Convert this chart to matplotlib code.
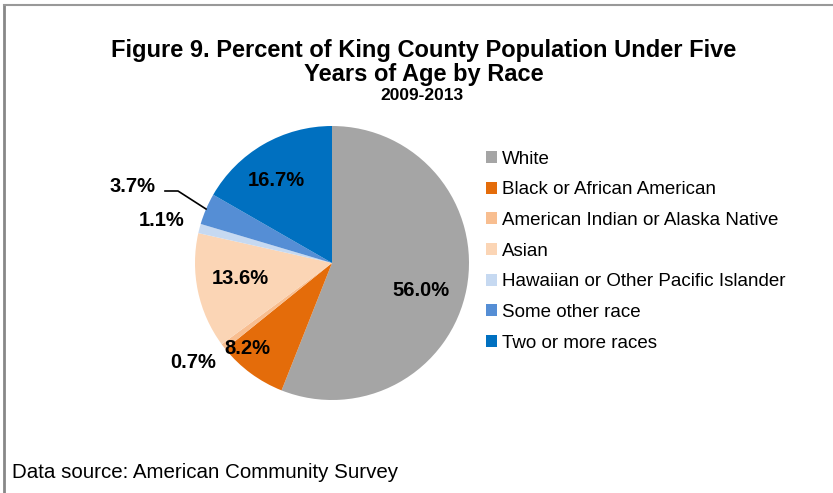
import matplotlib.pyplot as plt
from matplotlib.lines import Line2D
from matplotlib.patches import Patch

plt.rcParams['font.family'] = ['Liberation Sans', 'DejaVu Sans']

# -------------------------
# Data
# -------------------------
races = ['White', 'Black or African American', 'American Indian or Alaska Native',
         'Asian', 'Hawaiian or Other Pacific Islander', 'Some other race',
         'Two or more races']
percent = [56.0, 8.2, 0.7, 13.6, 1.1, 3.7, 16.7]
colors = ['#A5A5A5', '#E46C0A', '#F8BE90', '#FBD5B5', '#C6D9F1', '#558ED5', '#0070C0']

# label anchor points (pixel space, y measured from bottom)
label_xy = [(421, 203), (247, 145), (193, 131), (240, 215), (162, 273), (133, 307), (276, 312)]

# -------------------------
# Figure in pixel coordinates
# -------------------------
W, H = 833, 493
fig = plt.figure(figsize=(W / 100, H / 100), dpi=100)
ax = fig.add_axes([0, 0, 1, 1])

wedges, _ = ax.pie(percent, colors=colors, startangle=90, counterclock=False,
                   center=(332, 230), radius=137, frame=True)
ax.set_xlim(0, W)
ax.set_ylim(0, H)
ax.set_aspect('equal')
ax.axis('off')

for (x, y), p in zip(label_xy, percent):
    ax.text(x, y, f'{p:.1f}%', ha='center', va='center',
            fontsize=14.5, fontweight='bold', color='black')

# leader line for "Some other race"
ax.plot([165, 178, 206], [302, 302, 284], color='black', lw=1.2)

# -------------------------
# Titles and note
# -------------------------
ax.text(424, 443, 'Figure 9. Percent of King County Population Under Five',
        ha='center', va='center', fontsize=17, fontweight='bold')
ax.text(424, 419, 'Years of Age by Race', ha='center', va='center',
        fontsize=17, fontweight='bold')
ax.text(422, 397, '2009-2013', ha='center', va='center',
        fontsize=12.5, fontweight='bold')
ax.text(12, 20, 'Data source: American Community Survey', ha='left',
        va='center', fontsize=14.8)

# -------------------------
# Legend
# -------------------------
handles = [Patch(facecolor=c, edgecolor='none') for c in colors]
ax.legend(handles, races, loc='upper left', bbox_to_anchor=(478 / W, 350 / H),
          frameon=False, fontsize=13.5, handlelength=0.6, handleheight=0.6,
          handletextpad=0.3, labelspacing=0.73, borderaxespad=0)

# -------------------------
# Chart border (top and left edges)
# -------------------------
fig.add_artist(Line2D([3.5 / W, 3.5 / W], [0, 1 - 4.5 / H], transform=fig.transFigure,
                      color='#888888', lw=2))
fig.add_artist(Line2D([3.5 / W, 1], [1 - 4.5 / H, 1 - 4.5 / H], transform=fig.transFigure,
                      color='#999999', lw=1.5))

fig.savefig('out.png', dpi=100)
